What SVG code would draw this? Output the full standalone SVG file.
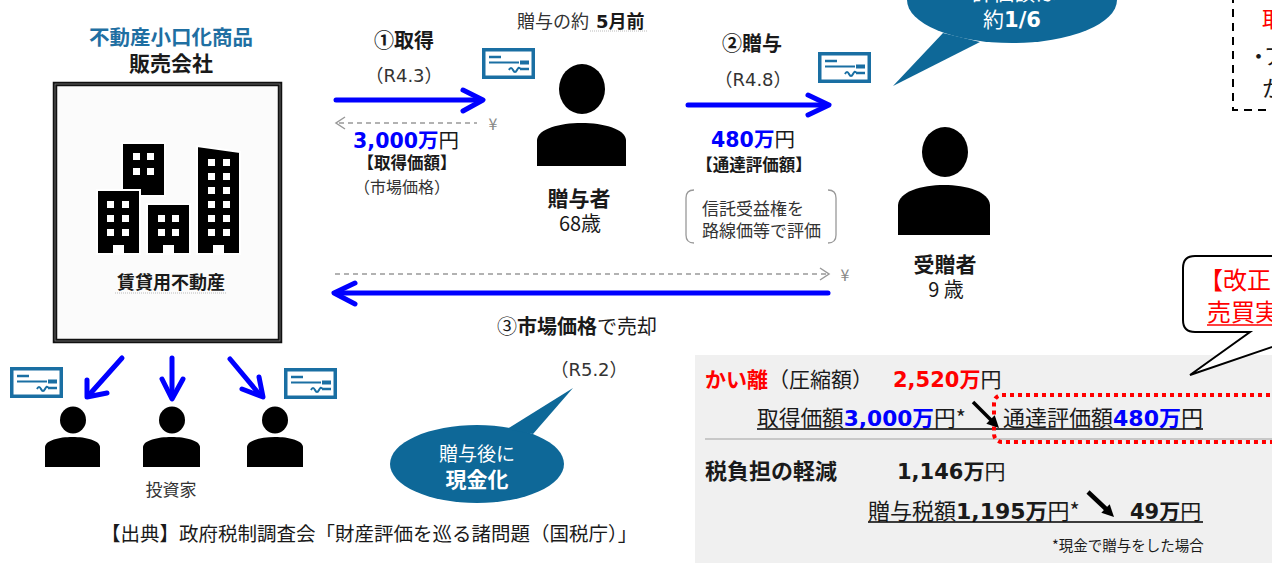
<svg xmlns="http://www.w3.org/2000/svg" xmlns:xlink="http://www.w3.org/1999/xlink" width="1272" height="563" viewBox="0 0 1272 563">
<style>
text{font-family:"Noto Sans CJK JP","Noto Sans",sans-serif;fill:#1a1a1a}
.b{font-weight:bold}
.n{font-family:"DejaVu Sans","Noto Sans CJK JP",sans-serif;font-weight:bold}
.l{font-family:"DejaVu Sans","Noto Sans CJK JP",sans-serif}
.w{fill:#fff}
.g{fill:#333}
.blue{fill:#0000ff}
.red{fill:#ff0000}
.arr{stroke:#0000ff;stroke-width:5;fill:none;stroke-linecap:round;stroke-linejoin:round}
.dash{stroke:#999;stroke-width:1.5;fill:none;stroke-dasharray:5 4}
.chev{stroke:#999;stroke-width:1.5;fill:none}
.bub{fill:#0e6898}
.pp{fill:#000}
.bld{fill:#000;stroke:#fff;stroke-width:2}
.win{fill:#fff}
</style>
<defs>
<symbol id="chk" viewBox="0 0 53 31">
<rect x="1.75" y="1.75" width="49.5" height="27.5" fill="#fff" stroke="#1a6fa3" stroke-width="3.5"/>
<line x1="7" y1="9" x2="19" y2="9" stroke="#1a6fa3" stroke-width="2.5"/>
<line x1="7" y1="14.5" x2="37" y2="14.5" stroke="#1a6fa3" stroke-width="2"/>
<rect x="38" y="12.5" width="9" height="4" fill="#1a6fa3"/>
<path d="M27,22 q2,-4 4,0 t4,0 t3,-1" stroke="#1a6fa3" stroke-width="2" fill="none"/>
<line x1="38" y1="21" x2="47" y2="21" stroke="#1a6fa3" stroke-width="2.5"/>
</symbol>
</defs>
<rect width="1272" height="563" fill="#fff"/>

<g id="seller">
<text x="171" y="45" text-anchor="middle" class="b" font-size="20.5" style="fill:#1f6fa2">不動産小口化商品</text>
<text x="171" y="71" text-anchor="middle" class="b" font-size="21">販売会社</text>
<rect x="55" y="84" width="225" height="257" fill="#fbfbfb" stroke="#111" stroke-width="4.5"/>
<rect x="55" y="84" width="225" height="257" fill="none" stroke="#777" stroke-width="0.8"/>
<rect x="122" y="143" width="43" height="53" class="bld"/>
<rect x="133" y="153" width="7" height="7" class="win"/><rect x="147" y="153" width="7" height="7" class="win"/>
<rect x="133" y="168" width="7" height="7" class="win"/><rect x="147" y="168" width="7" height="7" class="win"/>
<rect x="97" y="190" width="43" height="64" class="bld"/>
<rect x="147" y="204" width="43" height="50" class="bld"/>
<polygon points="197,146 240,152 240,254 197,254" class="bld"/>
<g class="win">
<rect x="113" y="245" width="11" height="10"/><rect x="163" y="245" width="11" height="10"/><rect x="213" y="245" width="11" height="10"/>
<rect x="107" y="201" width="7" height="7"/><rect x="122" y="201" width="7" height="7"/>
<rect x="107" y="215" width="7" height="7"/><rect x="122" y="215" width="7" height="7"/>
<rect x="107" y="229" width="7" height="7"/><rect x="122" y="229" width="7" height="7"/>
<rect x="158" y="215" width="7" height="7"/><rect x="172" y="215" width="7" height="7"/>
<rect x="158" y="229" width="7" height="7"/><rect x="172" y="229" width="7" height="7"/>
<rect x="208" y="159" width="7" height="7"/><rect x="223" y="159" width="7" height="7"/>
<rect x="208" y="173" width="7" height="7"/><rect x="223" y="173" width="7" height="7"/>
<rect x="208" y="187" width="7" height="7"/><rect x="223" y="187" width="7" height="7"/>
<rect x="208" y="201" width="7" height="7"/><rect x="223" y="201" width="7" height="7"/>
<rect x="208" y="215" width="7" height="7"/><rect x="223" y="215" width="7" height="7"/>
<rect x="208" y="229" width="7" height="7"/><rect x="223" y="229" width="7" height="7"/>
</g>
<text x="171" y="289" text-anchor="middle" class="b" font-size="18">賃貸用不動産</text>
<line x1="115" y1="293" x2="227" y2="293" stroke="#bbb" stroke-width="1" stroke-dasharray="1 1"/>
</g>

<g id="step1-labels">
<text x="404" y="48" text-anchor="middle" class="b" font-size="20">①取得</text>
<text x="404" y="82" text-anchor="middle" class="g" font-size="18">（<tspan class="l">R4.3</tspan>）</text>
<text x="406" y="148" text-anchor="middle" font-size="20.5"><tspan class="n blue">3,000万</tspan><tspan>円</tspan></text>
<text x="407" y="169" text-anchor="middle" class="b" font-size="16.5">【取得価額】</text>
<text x="402" y="193" text-anchor="middle" class="g" font-size="16">（市場価格）</text>
<text x="493" y="130" text-anchor="middle" font-size="16" style="fill:#888">¥</text>
<use href="#chk" x="482" y="48" width="53" height="31"/>
</g>

<g id="donor">
<text x="517" y="28" font-size="18"><tspan class="g">贈与の約 </tspan><tspan class="n" dx="3">5</tspan><tspan class="b">月前</tspan></text>
<line x1="590" y1="31" x2="648" y2="31" stroke="#bbb" stroke-width="1" stroke-dasharray="1 1"/>
<ellipse cx="582" cy="89" rx="23" ry="25" class="pp"/>
<path d="M537,166 V140 C539,117.3 624,117.3 626,140 V166 Z" class="pp"/>
<text x="579" y="206" text-anchor="middle" class="b" font-size="21">贈与者</text>
<text x="580" y="231" text-anchor="middle" font-size="20">68歳</text>
</g>

<g id="step2-labels">
<text x="752" y="51" text-anchor="middle" class="b" font-size="20">②贈与</text>
<text x="753" y="86" text-anchor="middle" class="g" font-size="18">（<tspan class="l">R4.8</tspan>）</text>
<text x="753" y="147" text-anchor="middle" font-size="20.5"><tspan class="n blue">480万</tspan><tspan>円</tspan></text>
<text x="754" y="171" text-anchor="middle" class="b" font-size="16.5">【通達評価額】</text>
<path d="M694,190 Q686,190 686,198 V235 Q686,243 694,243 M828,190 Q836,190 836,198 V235 Q836,243 828,243" fill="none" stroke="#999" stroke-width="1.3"/>
<text x="702" y="215" font-size="17" class="g">信託受益権を</text>
<text x="702" y="237" font-size="17" class="g">路線価等で評価</text>
<use href="#chk" x="818" y="52" width="53" height="31"/>
</g>

<g id="bubble-top">
<ellipse cx="1012" cy="0" rx="105" ry="43" class="bub"/>
<polygon points="943,33 893,86 980,42" class="bub"/>
<text x="1014" y="0" text-anchor="middle" class="w" font-size="21">評価額は</text>
<text x="1012" y="27" text-anchor="middle" font-size="21"><tspan class="w">約</tspan><tspan class="n w">1/6</tspan></text>
</g>

<g id="note-box">
<path d="M1233,-5 V110 H1280" fill="none" stroke="#000" stroke-width="2" stroke-dasharray="8 6"/>
<text x="1262" y="27" class="red" font-size="22">取</text>
<text x="1258.5" y="64" text-anchor="middle" font-size="22">・</text>
<text x="1264" y="64" font-size="22">ア</text>
<text x="1262" y="96" font-size="22">か</text>
</g>

<g id="recipient">
<ellipse cx="945" cy="152" rx="23" ry="25" class="pp"/>
<path d="M898,235 V205 C900,178.3 988,178.3 990,205 V235 Z" class="pp"/>
<text x="945" y="272" text-anchor="middle" class="b" font-size="21">受贈者</text>
<text x="946" y="297" text-anchor="middle" font-size="20">9 歳</text>
<text x="845" y="281" text-anchor="middle" font-size="16" style="fill:#888">¥</text>
</g>

<g id="step3-labels">
<text x="497" y="334" font-size="20"><tspan>③</tspan><tspan class="b">市場価格</tspan><tspan>で売却</tspan></text>
<text x="589" y="376" text-anchor="middle" class="g" font-size="18">（<tspan class="l">R5.2</tspan>）</text>
</g>

<g id="bubble-bottom">
<ellipse cx="477" cy="464" rx="87" ry="39" class="bub"/>
<polygon points="507,429 573,388 533,434" class="bub"/>
<text x="477" y="461" text-anchor="middle" class="w" font-size="19">贈与後に</text>
<text x="477" y="487" text-anchor="middle" class="w b" font-size="21">現金化</text>
</g>

<g id="investors">
<use href="#chk" x="10" y="367" width="53" height="31"/>
<use href="#chk" x="284" y="368" width="53" height="31"/>
<ellipse cx="73" cy="420" rx="13" ry="13.5" class="pp"/>
<path d="M45,467 V447 C46,433.7 99,433.7 100,447 V467 Z" class="pp"/>
<ellipse cx="172" cy="420" rx="13" ry="13.5" class="pp"/>
<path d="M143,467 V447 C144,433.7 199,433.7 200,447 V467 Z" class="pp"/>
<ellipse cx="275" cy="420" rx="13" ry="13.5" class="pp"/>
<path d="M247,467 V447 C248,433.7 302,433.7 303,447 V467 Z" class="pp"/>
<text x="171" y="496" text-anchor="middle" font-size="17" class="g">投資家</text>
</g>

<g id="connectors">
<line x1="336" y1="100" x2="480" y2="100" class="arr"/>
<polyline points="463,90 483,100 463,111" class="arr"/>
<line x1="339" y1="123" x2="477" y2="123" class="dash"/>
<polyline points="345,117 336,123 345,129" class="chev"/>
<line x1="688" y1="105" x2="826" y2="105" class="arr"/>
<polyline points="808,95 829,105 808,115" class="arr"/>
<line x1="335" y1="274" x2="826" y2="274" class="dash"/>
<polyline points="820,268 829,274 820,280" class="chev"/>
<line x1="828" y1="293" x2="338" y2="293" class="arr"/>
<polyline points="355,283 334,293 355,304" class="arr"/>
<line x1="122" y1="358" x2="89" y2="395" class="arr"/>
<polyline points="87,380 87,397 107,393" class="arr"/>
<line x1="172" y1="358" x2="172" y2="396" class="arr"/>
<polyline points="162,379 172,399 183,379" class="arr"/>
<line x1="230" y1="359" x2="260" y2="395" class="arr"/>
<polyline points="242,389 263,397 259,377" class="arr"/>
</g>

<g id="summary">
<rect x="695" y="355" width="590" height="220" fill="#f0f0f0"/>
<line x1="705" y1="439" x2="1272" y2="439" stroke="#c8c8c8" stroke-width="2"/>
<text x="705" y="387" font-size="21"><tspan class="b red">かい離</tspan><tspan>（圧縮額）</tspan></text>
<text x="893" y="387" font-size="21"><tspan class="n red">2,520万</tspan><tspan>円</tspan></text>
<text x="757" y="426" font-size="21.7">取得価額<tspan class="n blue">3,000万</tspan>円*</text>
<text x="1003" y="426" font-size="22">通達評価額<tspan class="n blue">480万</tspan>円</text>
<line x1="757" y1="429" x2="1203" y2="429" stroke="#000" stroke-width="1.5"/>
<text x="705" y="479" font-size="22" class="b">税負担の軽減</text>
<text x="897" y="479" font-size="21"><tspan class="n">1,146万</tspan><tspan>円</tspan></text>
<text x="868" y="519" font-size="22">贈与税額<tspan class="n">1,195万</tspan>円*</text>
<text x="1130" y="519" font-size="21"><tspan class="n">49万</tspan><tspan>円</tspan></text>
<line x1="868" y1="522" x2="1203" y2="522" stroke="#000" stroke-width="1.5"/>
<text x="1052" y="551" font-size="14.5">*現金で贈与をした場合</text>
<rect x="994" y="395" width="300" height="47" rx="8" fill="none" stroke="#ff0000" stroke-width="4" stroke-dasharray="4 4"/>
<line x1="973" y1="402" x2="991" y2="420" stroke="#000" stroke-width="3.5"/>
<polygon points="999,428 986.3,423.7 994.7,415.3" fill="#000"/>
<line x1="1088" y1="492" x2="1106" y2="509" stroke="#000" stroke-width="4.5"/>
<polygon points="1114,517 1101.3,512.7 1109.7,504.3" fill="#000"/>
</g>

<g id="callout">
<path d="M1320,256 H1195 Q1183,256 1183,268 V320 Q1183,332 1195,332 H1250 L1190,375 L1316,332 H1320 Z" fill="#fff" stroke="#000" stroke-width="2"/>
<text x="1199" y="289" class="red" font-size="24">【改正</text>
<text x="1207" y="321" class="red" font-size="24">売買実</text>
<line x1="1207" y1="325" x2="1272" y2="325" stroke="#ff0000" stroke-width="1.5"/>
</g>

<text x="101" y="541" font-size="19.5">【出典】政府税制調査会「財産評価を巡る諸問題（国税庁）」</text>
</svg>
